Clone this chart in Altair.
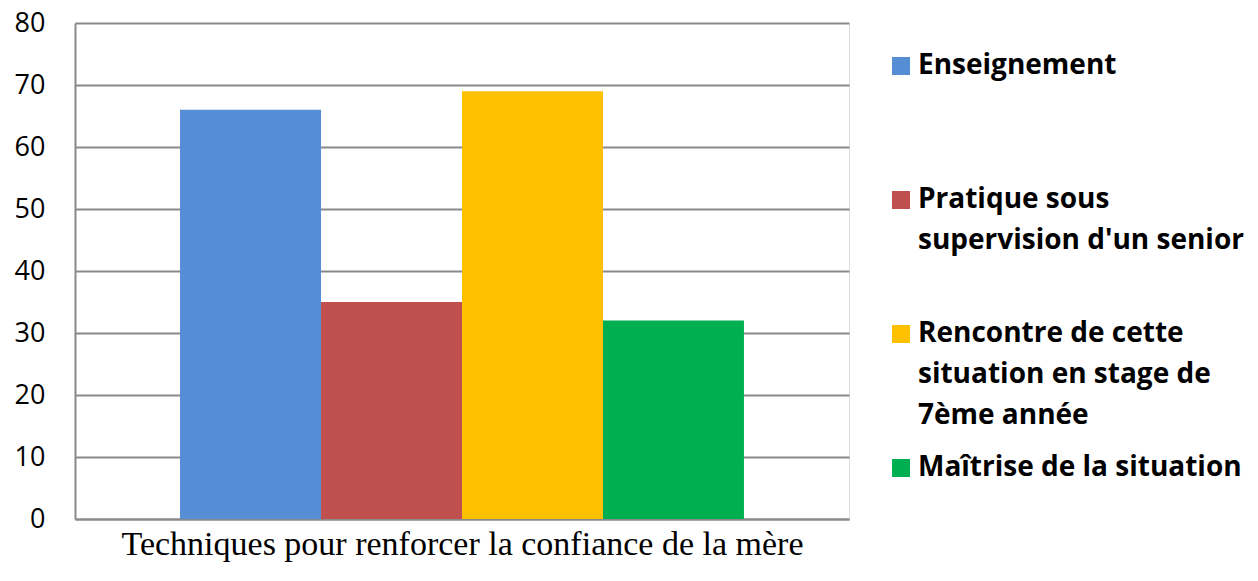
import json
import altair as alt
import pandas as pd

series = [
    "Enseignement",
    "Pratique sous supervision d'un senior",
    "Rencontre de cette situation en stage de 7ème année",
    "Maîtrise de la situation",
]
legend_lines = [
    ["Enseignement"],
    ["Pratique sous", "supervision d'un senior"],
    ["Rencontre de cette", "situation en stage de", "7ème année"],
    ["Maîtrise de la situation"],
]
values = [66, 35, 69, 32]
colors = ["#558ED5", "#C0504D", "#FFC000", "#00B050"]
y_ticks = [0, 10, 20, 30, 40, 50, 60, 70, 80]
x_title = "Techniques pour renforcer la confiance de la mère"

df = pd.DataFrame({"series": series, "value": values})

label_expr = ""
for name, lines in zip(series, legend_lines):
    label_expr += f"datum.label === {json.dumps(name)} ? {json.dumps(lines)} : "
label_expr += "datum.label"

grid_color = "#898989"

chart = (
    alt.Chart(df)
    .mark_bar()
    .encode(
        x=alt.X(
            "series:N",
            sort=series,
            scale=alt.Scale(paddingInner=0, paddingOuter=0.745),
            axis=alt.Axis(
                labels=False,
                ticks=False,
                domainColor=grid_color,
                domainWidth=2,
                title=x_title,
                titleFont="Liberation Serif",
                titleFontSize=34,
                titleFontWeight="normal",
                titleColor="#000000",
                titlePadding=8,
            ),
        ),
        y=alt.Y(
            "value:Q",
            scale=alt.Scale(domain=[0, 80]),
            axis=alt.Axis(
                values=y_ticks,
                title=None,
                ticks=False,
                grid=True,
                gridColor=grid_color,
                gridWidth=2,
                gridOpacity=1,
                domainColor=grid_color,
                domainWidth=2,
                labelFont="Open Sans",
                labelFontSize=27,
                labelColor="#000000",
                labelPadding=30,
            ),
        ),
        color=alt.Color(
            "series:N",
            sort=series,
            scale=alt.Scale(domain=series, range=colors),
            legend=alt.Legend(
                title=None,
                orient="none",
                legendX=812,
                legendY=29,
                symbolType="square",
                symbolSize=324,
                symbolStrokeWidth=0,
                symbolOpacity=1,
                labelFont="Open Sans",
                labelFontSize=28,
                labelFontWeight="bold",
                labelColor="#000000",
                labelLimit=400,
                labelExpr=label_expr,
                labelOffset=3,
                gridAlign="all",
                rowPadding=24,
            ),
        ),
    )
    .properties(
        width=774,
        height=496,
        autosize=alt.AutoSizeParams(type="none"),
        padding={"left": 67, "top": 15, "right": 401, "bottom": 54},
    )
    .configure_view(stroke=None)
    .configure(background="#ffffff", style={"guide-label": {"lineHeight": 41}})
)

chart.save("out.html", embed_options={"renderer": "svg", "actions": False})
